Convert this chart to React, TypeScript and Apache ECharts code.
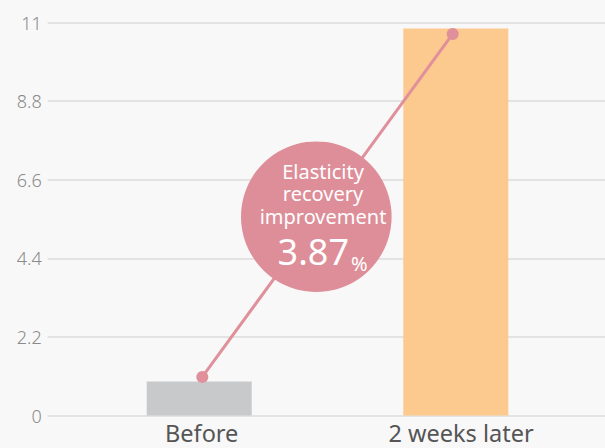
import React, { useEffect, useRef } from "react";
import * as echarts from "echarts";

const categories = ["Before", "2 weeks later"];
const barValues = [0.95, 10.83];
const lineValues = [1.08, 10.68];
const yTicks = { min: 0, max: 11, interval: 2.2 };
const badgeTitle = ["Elasticity", "recovery", "improvement"];
const badgeValue = "3.87";
const badgeUnit = "%";

const FONT = "'Noto Sans', 'Open Sans', sans-serif";

export default function App() {
  const ref = useRef<HTMLDivElement>(null);
  useEffect(() => {
    document.body.style.margin = "0";
    const chart = echarts.init(ref.current!, null, { renderer: "svg" });
    const top = 22.5;
    const bottom = 32.5;
    const grid = (left: number, right: number) => ({
      left,
      right,
      top,
      bottom,
      containLabel: false,
      outerBoundsMode: "none",
    });
    const hiddenY = (gi: number) => ({
      type: "value",
      gridIndex: gi,
      min: yTicks.min,
      max: yTicks.max,
      interval: yTicks.interval,
      show: false,
    });
    const hiddenX = (gi: number) => ({
      type: "category",
      gridIndex: gi,
      data: categories,
      show: false,
    });
    const titleTexts = badgeTitle.map((t, i) => ({
      type: "text",
      x: 323,
      y: 171 + i * 22.5,
      z: 101,
      style: {
        text: t,
        fill: "#ffffff",
        fontSize: 20,
        lineHeight: 20,
        fontFamily: FONT,
        align: "center",
        verticalAlign: "middle",
      },
    }));
    chart.setOption({
      animation: false,
      backgroundColor: "#f8f8f8",
      grid: [grid(47.7, 0), grid(70.9, 20.9), grid(77.1, 27.1), grid(72, 14.3)],
      xAxis: [
        hiddenX(0),
        hiddenX(1),
        hiddenX(2),
        {
          type: "category",
          gridIndex: 3,
          data: categories,
          axisLine: { show: false },
          axisTick: { show: false },
          axisLabel: {
            fontSize: 23.5,
            lineHeight: 24,
            color: "#555",
            fontFamily: FONT,
            margin: 5,
          },
        },
      ],
      yAxis: [
        {
          type: "value",
          gridIndex: 0,
          min: yTicks.min,
          max: yTicks.max,
          interval: yTicks.interval,
          axisLine: { show: false },
          axisTick: { show: false },
          axisLabel: {
            fontSize: 18,
            color: "#8a8a8a",
            fontFamily: FONT,
            fontWeight: 300,
            margin: 6,
          },
          splitLine: { lineStyle: { color: "#dddddd", width: 1.5 } },
        },
        hiddenY(1),
        hiddenY(2),
        hiddenY(3),
      ],
      series: [
        {
          type: "bar",
          xAxisIndex: 1,
          yAxisIndex: 1,
          barWidth: 105,
          data: barValues.map((v, i) => ({
            value: v,
            itemStyle: { color: i === 0 ? "#c8c9cb" : "#fcc98e" },
          })),
        },
        {
          type: "line",
          xAxisIndex: 2,
          yAxisIndex: 2,
          data: lineValues,
          symbol: "circle",
          symbolSize: 12,
          lineStyle: { color: "#e0909b", width: 3 },
          itemStyle: { color: "#e0909b" },
        },
      ],
      graphic: [
        {
          type: "circle",
          shape: { cx: 316.3, cy: 216.7, r: 75.3 },
          style: { fill: "#de8e98" },
          z: 100,
        },
        ...titleTexts,
        {
          type: "text",
          x: 349,
          y: 251,
          z: 101,
          style: {
            text: badgeValue,
            fill: "#ffffff",
            fontSize: 36,
            fontFamily: FONT,
            align: "right",
            verticalAlign: "middle",
          },
        },
        {
          type: "text",
          x: 351,
          y: 263,
          z: 101,
          style: {
            text: badgeUnit,
            fill: "#ffffff",
            fontSize: 20,
            fontFamily: FONT,
            align: "left",
            verticalAlign: "middle",
          },
        },
      ],
    });
    return () => chart.dispose();
  }, []);
  return <div ref={ref} style={{ width: 605, height: 448 }} />;
}
